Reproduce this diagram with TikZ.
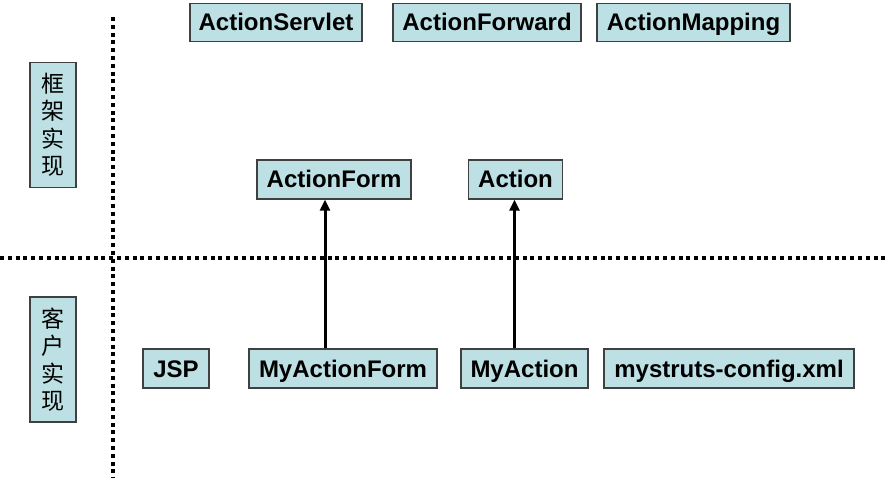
\documentclass[tikz,border=0pt]{standalone}
\usepackage{fontspec}
\setsansfont{Liberation Sans}
\newfontfamily\cjk{Noto Sans CJK SC}
\usetikzlibrary{arrows.meta}
\definecolor{boxcyan}{RGB}{188,224,228}
\definecolor{boxline}{RGB}{64,64,64}
\tikzset{
  clsbox/.style={draw=boxline, line width=1.3pt, fill=boxcyan, inner sep=0pt,
    text height=17pt, text depth=0pt,
    minimum height=38pt, font=\sffamily\bfseries\fontsize{24}{26}\selectfont},
  layerbox/.style={draw=boxline, line width=1.3pt, fill=boxcyan, inner sep=0pt,
    minimum width=46pt, minimum height=125pt, align=center,
    font=\cjk\fontsize{23}{27.5}\selectfont},
  divider/.style={line width=4pt, dash pattern=on 4pt off 3.8pt},
  uses/.style={line width=3pt, -{Triangle[width=10pt,length=11pt]}}
}
\begin{document}
\begin{tikzpicture}[x=1pt, y=-1pt]
  \useasboundingbox (0,0) rectangle (888,478);
  % dotted dividers
  \coordinate (vtop) at (113,17);
  \coordinate (vbot) at (113,478);
  \coordinate (hleft) at (0,258);
  \coordinate (hright) at (888,258);
  \draw[divider] (vtop) -- (vbot);
  \draw[divider] (hleft) -- (hright);
  % layer labels
  \node[layerbox] (framework) at (53,125) {框\\架\\实\\现};
  \node[layerbox] (client) at (53,359.5) {客\\户\\实\\现};
  % framework classes
  \node[clsbox, minimum width=172pt] (servlet) at (276,22.5) {ActionServlet};
  \node[clsbox, minimum width=188pt] (forward) at (487,22.5) {ActionForward};
  \node[clsbox, minimum width=193pt] (mapping) at (693.5,22.5) {ActionMapping};
  \node[clsbox, minimum width=154pt, minimum height=39pt] (form) at (334,179.5) {ActionForm};
  \node[clsbox, minimum width=94pt, minimum height=39pt] (act) at (515.5,179.5) {Action};
  % client classes
  \node[clsbox, minimum width=66pt, minimum height=39pt] (jsp) at (176,368.5) {JSP};
  \node[clsbox, minimum width=188pt, minimum height=39pt] (myform) at (343,368.5) {MyActionForm};
  \node[clsbox, minimum width=127pt, minimum height=39pt] (myact) at (524.5,368.5) {MyAction};
  \node[clsbox, minimum width=250pt, minimum height=39pt] (config) at (729,368.5) {mystruts-config.xml};
  % inheritance
  \draw[uses] ([xshift=-18pt]myform.north) coordinate (p) -- (p |- form.south);
  \draw[uses] ([xshift=-10pt]myact.north) coordinate (q) -- (q |- act.south);
\end{tikzpicture}
\end{document}
